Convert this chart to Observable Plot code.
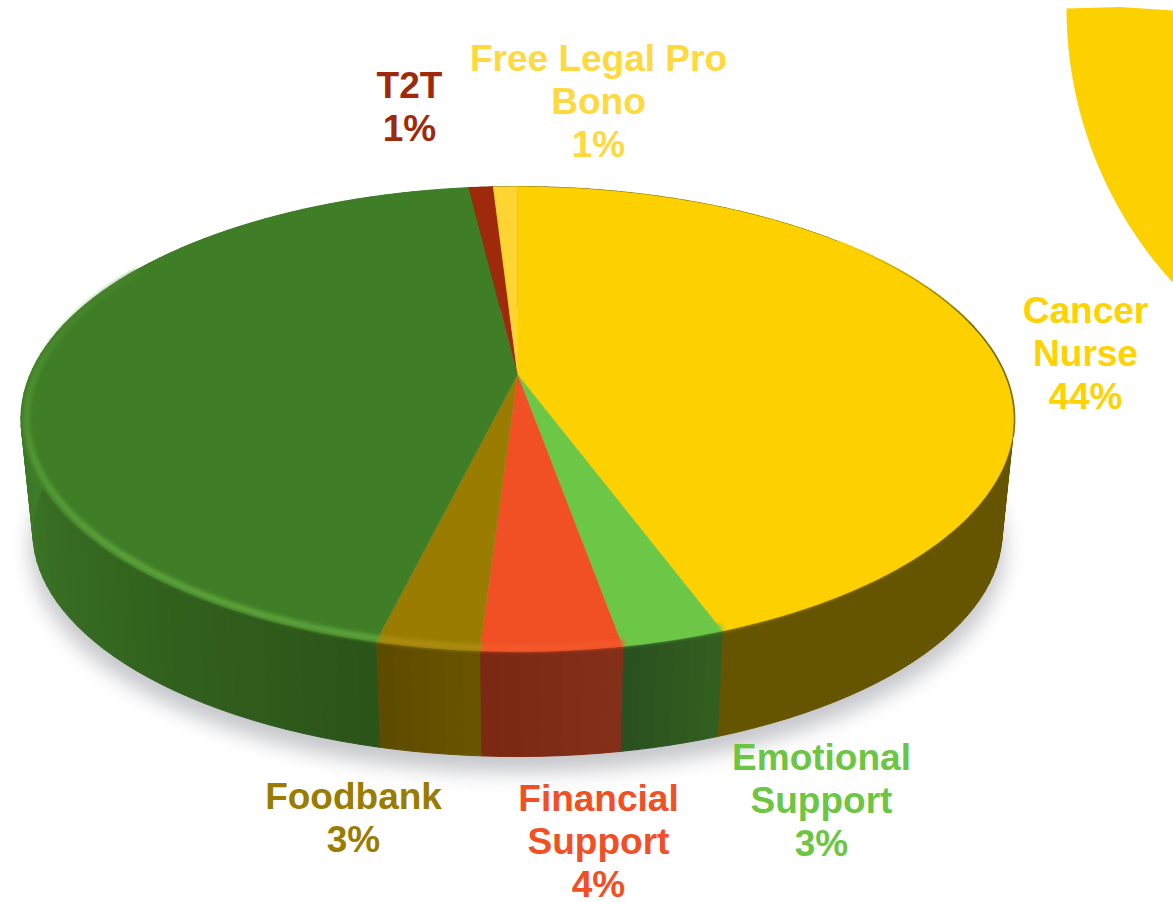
<!DOCTYPE html>
<html><head><meta charset="utf-8">
<script src="https://cdn.jsdelivr.net/npm/d3@7"></script>
<script src="https://cdn.jsdelivr.net/npm/@observablehq/plot@0.6"></script>
<style>html,body{margin:0;padding:0;background:#fff;overflow:hidden}svg{display:block}</style>
</head><body><div id="chart"></div>
<script>
// ---- data ----
const categories = ["Cancer Nurse","Emotional Support","Financial Support","Foodbank","Unlabelled","T2T","Free Legal Pro Bono"];
const shares     = [44.4, 2.8, 3.8, 2.8, 44.3, 0.95, 0.95];
const percentLabels = ["44%","3%","4%","3%","","1%","1%"];
const labelLines = ["Cancer\nNurse","Emotional\nSupport","Financial\nSupport","Foodbank","","T2T","Free Legal Pro\nBono"];

// ---- styles ----
const topColors   = ["#fdd000","#6dc747","#f05024","#997c00","#3f7d26","#9e2a0b","#fdd432"];
const labelColors = ["#ffd200","#6cc644","#f05024","#997c00","#3f7d26","#9e2a0b","#ffd93d"];
const wallStart   = ["#665500","#33601f","#85301a","#6a5600","#2b5418","#7a2208","#7a6a10"];
const wallEnd     = ["#665500","#2a5020","#7a2812","#5c4a00","#41802a","#7a2208","#7a6a10"];
const rimGlow     = ["#fdd000","#6dc747","#f4582a","#ad8e12","#5fa53c","#9e2a0b","#fdd432"];

// ---- layout (pixel geometry of the perspective view) ----
const W = 1173, H = 902;
const apexX = 517, apexY = 374;
const radiusX = 487.3, radiusY = 224, persp = 0.192;
const baseScaleX = 0.976, baseScaleY = 0.965, baseDrop = 114.5;
const wallShadeEnd = 275; // the wall is out of sight past this angle
const labelCenters = [[1085,352],[821,799],[598,840],[353,816],[0,0],[409,105.5],[598,100]];

const toRad = d => d * Math.PI / 180;
function topPt(theta, r = 1) {
  const t = toRad(theta), w = 1 + persp * r * Math.cos(t);
  return {x: r * Math.sin(t) / w, y: r * Math.cos(t) / w};
}
function basePt(theta, r = 1) {
  const p = topPt(theta, r);
  return {x: p.x * baseScaleX, y: p.y * baseScaleY - baseDrop / radiusY};
}
const ux = px => (px - apexX) / radiusX;
const uy = py => (apexY - py) / radiusY;

// slices from the shares
let acc = 0;
const total = d3.sum(shares);
const slices = categories.map((name, i) => {
  const a0 = acc / total * 360; acc += shares[i];
  return {name, i, a0, a1: acc / total * 360, fill: topColors[i]};
});
const arcAngles = (a0, a1, step = 1) => {
  const n = Math.max(2, Math.ceil((a1 - a0) / step));
  return d3.range(n + 1).map(k => a0 + (a1 - a0) * k / n);
};

// top face polygons
const topPoly = slices.flatMap(s => [
  {id: s.name, x: 0, y: 0, c: s.fill},
  ...arcAngles(s.a0, s.a1).map(a => ({id: s.name, ...topPt(a), c: s.fill})),
  {id: s.name, x: 0, y: 0, c: s.fill}
]);

// wall strips, shaded along the rim
const wallPoly = slices.flatMap(s => {
  const ang = arcAngles(s.a0, s.a1, 2);
  const col = d3.interpolateRgb(wallStart[s.i], wallEnd[s.i]);
  const shade = d3.scaleLinear([s.a0, Math.min(s.a1, Math.max(s.a0 + 1, wallShadeEnd))], [0, 1]).clamp(true);
  return ang.slice(1).flatMap((a, k) => {
    const b = ang[k], id = s.name + k, c = d3.rgb(col(shade((a + b) / 2))).formatHex();
    return [topPt(b), topPt(a), basePt(a), basePt(b), topPt(b)].map(p => ({id, ...p, c}));
  });
});

// blurred shadow beneath the puck
const shadowPoly = arcAngles(0, 360, 3).map(a => {
  const p = basePt(a);
  return {x: p.x * 1.005, y: p.y - 16 / radiusY};
});

// highlight along the front rim, fading out towards the back on the left
const fadeGreen = d3.scaleLinear([225, 295], [0, 0.85]).clamp(true);
const rimLine = slices.flatMap(s => {
  const a0 = Math.max(s.a0, 100), a1 = Math.min(s.a1, 300);
  if (a1 <= a0) return [];
  return arcAngles(a0, a1).map(a => ({
    id: s.name, ...topPt(a, 0.989),
    c: d3.rgb(d3.interpolateRgb(rimGlow[s.i], topColors[s.i])(fadeGreen(a))).formatHex()
  }));
});
// thin dark edge on the upper right of the rim, growing out of the yellow
const fadeEdge = d3.scaleLinear([48, 78], [0, 1]).clamp(true);
const darkEdge = arcAngles(48, 105).map(a => ({
  ...topPt(a, 1.001),
  c: d3.rgb(d3.interpolateRgb("#fdd000", "#7a6800")(fadeEdge(a))).formatHex()
}));

// the stray yellow shape cut off by the top right corner
const fragCx = 1473, fragCy = 8, fragR = 407;
const fragPoly = [
  ...d3.range(180, 224, 2).map(a => ({x: ux(fragCx + fragR * Math.cos(toRad(a))), y: uy(fragCy - fragR * Math.sin(toRad(a)))})),
  {x: ux(1200), y: uy(300)}, {x: ux(1200), y: uy(12)}, {x: ux(1173), y: uy(10)}, {x: ux(1120), y: uy(6.5)}, {x: ux(1066), y: uy(8)}
];

const labels = slices.filter(s => labelLines[s.i]).map(s => ({
  text: labelLines[s.i] + "\n" + percentLabels[s.i],
  x: ux(labelCenters[s.i][0]), y: uy(labelCenters[s.i][1]), c: labelColors[s.i]
}));

const chart = Plot.plot({
  width: W, height: H, margin: 0,
  x: {domain: [ux(0), ux(W)], range: [0, W], axis: null},
  y: {domain: [uy(0), uy(H)], range: [0, H], axis: null},
  color: {type: "identity"},
  style: {background: "#fff"},
  marks: [
    Plot.line(fragPoly, {x: "x", y: "y", fill: "#fdd000", stroke: "none", clip: "frame"}),
    Plot.line(shadowPoly, {x: "x", y: "y", fill: "#c6c7cb", stroke: "none", imageFilter: "blur(10px)"}),
    Plot.line(wallPoly, {x: "x", y: "y", z: "id", fill: "c", stroke: "c", strokeWidth: 1}),
    Plot.line(topPoly, {x: "x", y: "y", z: "id", fill: "c", stroke: "c", strokeWidth: 0.3}),
    Plot.line(darkEdge, {x: "x", y: "y", z: null, stroke: "c", strokeWidth: 1.6, imageFilter: "blur(0.5px)"}),
    Plot.line(rimLine, {x: "x", y: "y", z: "id", stroke: "c", strokeWidth: 6, imageFilter: "blur(2px)"}),
    Plot.text(labels, {
      x: "x", y: "y", text: "text", fill: "c", textAnchor: "middle", lineAnchor: "middle",
      fontFamily: "Liberation Sans", fontWeight: "bold", fontSize: 37, lineHeight: 1.165
    })
  ]
});
document.getElementById("chart").append(chart);
</script></body></html>
